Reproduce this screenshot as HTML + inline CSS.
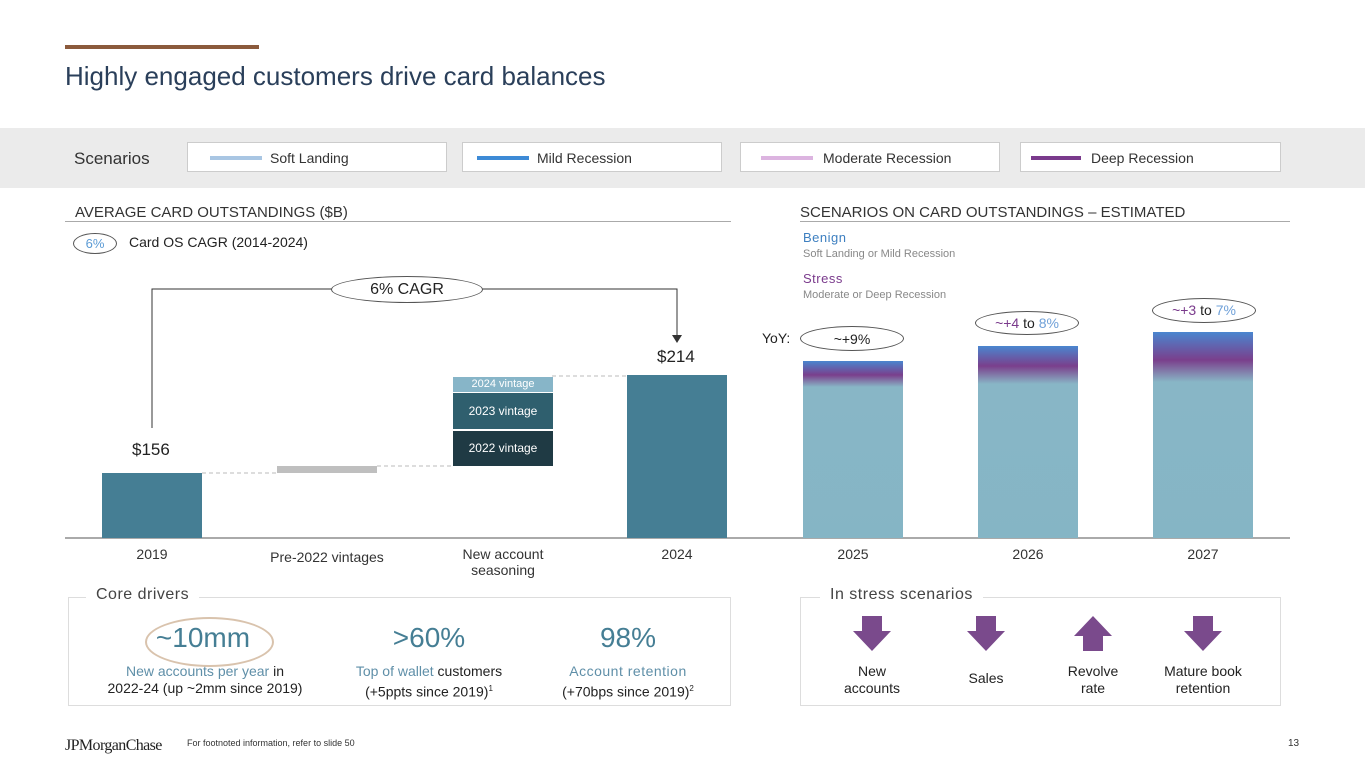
<!DOCTYPE html><html><head><style>
body{margin:0;width:1365px;height:768px;position:relative;background:#fff;font-family:"Liberation Sans",sans-serif;overflow:hidden;color:#222}
.a{position:absolute}
.c{text-align:center}
.sb{position:absolute;top:142px;height:30px;background:#fff;border:1px solid #ccc;box-sizing:border-box;font-size:14px;color:#333}
.sb i{position:absolute;left:22px;top:13px;width:52px;height:4px}
.sb span{position:absolute;left:82px;top:7px}
.bar{position:absolute;width:100px}
.grad{background:linear-gradient(#4a86cf 0px,#7a3f8c 14px,#88b6c6 26px,#85b5c5 100%)}
.xl{position:absolute;top:546px;width:140px;text-align:center;font-size:14px;color:#333}
.ov{position:absolute;border:1px solid #555;border-radius:50%;text-align:center;font-size:14px;box-sizing:border-box}
</style></head><body>
<div class="a" style="left:65px;top:45px;width:194px;height:4px;background:#8b5a3c"></div>
<div class="a" style="left:65px;top:61px;font-size:26px;color:#2a3f5a">Highly engaged customers drive card balances</div>
<div class="a" style="left:0;top:128px;width:1365px;height:60px;background:#ebebeb"></div>
<div class="a" style="left:74px;top:149px;font-size:17px;color:#333">Scenarios</div>
<div class="sb" style="left:187px;width:260px"><i style="background:#a9c6e3"></i><span>Soft Landing</span></div>
<div class="sb" style="left:462px;width:260px"><i style="background:#3d8ad6;left:14px"></i><span style="left:74px">Mild Recession</span></div>
<div class="sb" style="left:740px;width:260px"><i style="background:#dcb4e0;left:20px"></i><span>Moderate Recession</span></div>
<div class="sb" style="left:1020px;width:261px"><i style="background:#7a3a8c;left:10px;width:50px"></i><span style="left:70px">Deep Recession</span></div>

<div class="a" style="left:75px;top:204px;font-size:15px;color:#333">AVERAGE CARD OUTSTANDINGS ($B)</div>
<div class="a" style="left:65px;top:221px;width:666px;height:1px;background:#aaa"></div>
<div class="a" style="left:800px;top:204px;font-size:15px;color:#333">SCENARIOS ON CARD OUTSTANDINGS – ESTIMATED</div>
<div class="a" style="left:800px;top:221px;width:490px;height:1px;background:#aaa"></div>
<div class="ov" style="left:73px;top:233px;width:44px;height:21px;font-size:13px;color:#5b9bd5;padding-top:2px">6%</div>
<div class="a" style="left:129px;top:234px;font-size:14px">Card OS CAGR (2014-2024)</div>
<div class="a" style="left:803px;top:230px;font-size:13px;color:#3d7fc0;letter-spacing:.5px">Benign</div>
<div class="a" style="left:803px;top:248px;font-size:11px;color:#888">Soft Landing or Mild Recession</div>
<div class="a" style="left:803px;top:271px;font-size:13px;color:#7a3a8c;letter-spacing:.5px">Stress</div>
<div class="a" style="left:803px;top:289px;font-size:11px;color:#888">Moderate or Deep Recession</div>

<svg class="a" style="left:0;top:0" width="1365" height="768">
<polyline points="152,428 152,289 677,289 677,337" fill="none" stroke="#333" stroke-width="1"/>
<polygon points="672,335 682,335 677,343" fill="#333"/>
<line x1="202" y1="473" x2="277" y2="473" stroke="#bbb" stroke-dasharray="4,3"/>
<line x1="377" y1="466" x2="453" y2="466" stroke="#bbb" stroke-dasharray="4,3"/>
<line x1="552" y1="376" x2="627" y2="376" stroke="#bbb" stroke-dasharray="4,3"/>
<line x1="65" y1="538" x2="1290" y2="538" stroke="#555"/>
</svg>
<div class="ov" style="left:331px;top:276px;width:152px;height:27px;background:#fff;font-size:16px;padding-top:4px">6% CAGR</div>

<div class="bar" style="left:102px;top:473px;height:65px;background:#457e94"></div>
<div class="a" style="left:132px;top:440px;font-size:17px">$156</div>
<div class="bar" style="left:277px;top:466px;height:7px;background:#bfbfbf"></div>
<div class="bar c" style="left:453px;top:377px;height:15px;background:#87b5c8;color:#fff;font-size:11px;line-height:15px">2024 vintage</div>
<div class="bar c" style="left:453px;top:393px;height:36px;background:#2f5f6e;color:#fff;font-size:12px;line-height:36px">2023 vintage</div>
<div class="bar c" style="left:453px;top:431px;height:35px;background:#1f3a44;color:#fff;font-size:12px;line-height:35px">2022 vintage</div>
<div class="bar" style="left:627px;top:375px;height:163px;background:#457e94"></div>
<div class="a" style="left:657px;top:347px;font-size:17px">$214</div>
<div class="bar grad" style="left:803px;top:361px;height:177px"></div>
<div class="bar grad" style="left:978px;top:346px;height:192px;background:linear-gradient(#4a86cf 0px,#7a3f8c 20px,#88b6c6 38px,#85b5c5 100%)"></div>
<div class="bar grad" style="left:1153px;top:332px;height:206px;background:linear-gradient(#4a86cf 0px,#7a3f8c 28px,#88b6c6 50px,#85b5c5 100%)"></div>
<div class="a" style="left:762px;top:330px;font-size:14px">YoY:</div>
<div class="ov" style="left:800px;top:326px;width:104px;height:25px;padding-top:4px">~+9%</div>
<div class="ov" style="left:975px;top:311px;width:104px;height:24px;padding-top:3px"><span style="color:#7a3a8c">~+4</span> to <span style="color:#6fa0d8">8%</span></div>
<div class="ov" style="left:1152px;top:298px;width:104px;height:25px;padding-top:3px"><span style="color:#7a3a8c">~+3</span> to <span style="color:#6fa0d8">7%</span></div>

<div class="xl" style="left:82px">2019</div>
<div class="xl" style="left:257px;top:549px">Pre-2022 vintages</div>
<div class="xl" style="left:433px">New account<br>seasoning</div>
<div class="xl" style="left:607px">2024</div>
<div class="xl" style="left:783px">2025</div>
<div class="xl" style="left:958px">2026</div>
<div class="xl" style="left:1133px">2027</div>

<div class="a" style="left:68px;top:597px;width:663px;height:109px;border:1px solid #ddd;box-sizing:border-box"></div>
<div class="a" style="left:86px;top:586px;padding:0 10px;background:#fff;font-size:16px;color:#444;letter-spacing:.5px">Core drivers</div>
<div class="a" style="left:145px;top:617px;width:125px;height:46px;border:2px solid #d9c3ad;border-radius:50%"></div>
<div class="a c" style="left:100px;top:622px;width:206px;font-size:28px;color:#457e94">~10mm</div>
<div class="a c" style="left:90px;top:663px;width:230px;font-size:14px;line-height:17px"><span style="color:#5f8fa8">New accounts per year</span> in<br>2022-24 (up ~2mm since 2019)</div>
<div class="a c" style="left:329px;top:622px;width:200px;font-size:28px;color:#457e94">&gt;60%</div>
<div class="a c" style="left:329px;top:663px;width:200px;font-size:14px;line-height:17px"><span style="color:#5f8fa8">Top of wallet</span> customers<br>(+5ppts since 2019)<sup style="font-size:8px">1</sup></div>
<div class="a c" style="left:528px;top:622px;width:200px;font-size:28px;color:#457e94">98%</div>
<div class="a c" style="left:528px;top:663px;width:200px;font-size:14px;line-height:17px"><span style="color:#5f8fa8;letter-spacing:.5px">Account retention</span><br>(+70bps since 2019)<sup style="font-size:8px">2</sup></div>

<div class="a" style="left:800px;top:597px;width:481px;height:109px;border:1px solid #ddd;box-sizing:border-box"></div>
<div class="a" style="left:820px;top:586px;padding:0 10px;background:#fff;font-size:16px;color:#444;letter-spacing:.5px">In stress scenarios</div>
<svg class="a" style="left:0;top:0" width="1365" height="768" fill="#7a4a8c">
<polygon points="862,616 882,616 882,631 891,631 872,651 853,631 862,631"/>
<polygon points="976,616 996,616 996,631 1005,631 986,651 967,631 976,631"/>
<polygon points="1083,651 1103,651 1103,636 1112,636 1093,616 1074,636 1083,636"/>
<polygon points="1193,616 1213,616 1213,631 1222,631 1203,651 1184,631 1193,631"/>
</svg>
<div class="a c" style="left:822px;top:663px;width:100px;font-size:14px;line-height:17px">New<br>accounts</div>
<div class="a c" style="left:936px;top:670px;width:100px;font-size:14px">Sales</div>
<div class="a c" style="left:1043px;top:663px;width:100px;font-size:14px;line-height:17px">Revolve<br>rate</div>
<div class="a c" style="left:1153px;top:663px;width:100px;font-size:14px;line-height:17px">Mature book<br>retention</div>

<div class="a" style="left:65px;top:737px;font-family:'Liberation Serif',serif;font-size:16px;letter-spacing:-.6px;color:#222">JPMorganChase</div>
<div class="a" style="left:187px;top:738px;font-size:9px;color:#333">For footnoted information, refer to slide 50</div>
<div class="a" style="left:1288px;top:738px;font-size:10px;color:#333">13</div>
</body></html>
